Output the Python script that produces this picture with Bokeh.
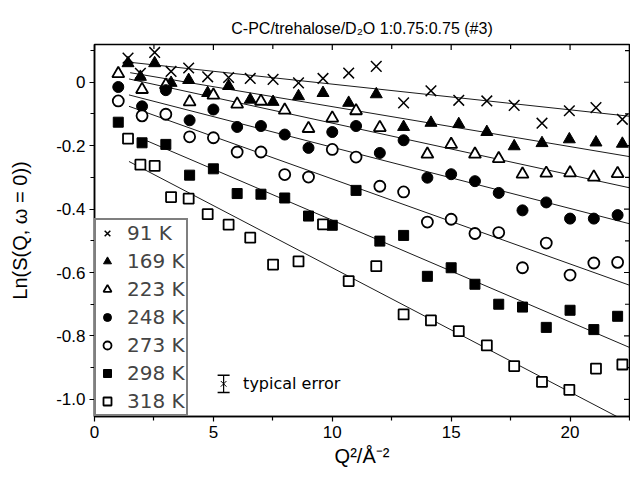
import math
from bokeh.plotting import figure
from bokeh.models import FixedTicker, Legend, LegendItem, Range1d
from bokeh.core.properties import value
from bokeh.embed import file_html
from bokeh.resources import INLINE

# ---------------- data ----------------
title_text = "C-PC/trehalose/D₂O 1:0.75:0.75 (#3)"
x_label = "Q²/Å⁻²"
y_label = "Ln(S(Q, ω = 0))"

x_ticks = [0, 5, 10, 15, 20]
x_tick_labels = ["0", "5", "10", "15", "20"]
x_minor_ticks = [2.5, 7.5, 12.5, 17.5, 22.5]
y_ticks = [0, -0.2, -0.4, -0.6, -0.8, -1.0]
y_tick_labels = ["0", "-0.2", "-0.4", "-0.6", "-0.8", "-1.0"]
y_minor_ticks = [0.1, -0.1, -0.3, -0.5, -0.7, -0.9]

labels = ["91 K", "169 K", "223 K", "248 K", "273 K", "298 K", "318 K"]

q2_a = [1.41, 1.93, 2.53, 3.22, 3.96, 4.76, 5.64, 6.55, 7.51, 8.58, 9.61,
        10.69, 11.85, 13.00, 14.15, 15.32, 16.50, 17.65, 18.82, 19.97, 21.09, 22.20]
q2_b = [1, 2, 3, 4, 5, 6, 7, 8, 9, 10, 11,
        12, 13, 14, 15, 16, 17, 18, 19, 20, 21, 22]
q2_223 = [1, 2, 3, 4, 5, 6, 7, 8, 9, 10, 11,
          12, 14, 15, 16, 17, 18, 19, 20, 21, 22]

s_91 = [0.076, 0.028, 0.094, 0.034, 0.045, 0.017, 0.015, 0.012, 0.009, -0.002, 0.012,
        0.029, 0.050, -0.065, -0.027, -0.057, -0.059, -0.073, -0.129, -0.090, -0.080, -0.117]
s_169 = [0.060, 0.017, 0.060, -0.002, 0.007, -0.034, -0.012, -0.055, -0.062, -0.044, -0.034,
         -0.065, -0.038, -0.141, -0.128, -0.132, -0.157, -0.202, -0.192, -0.180, -0.190, -0.194]
s_223 = [0.027, -0.023, -0.009, -0.062, -0.041, -0.069, -0.060, -0.088, -0.146, -0.113, -0.090,
         -0.143, -0.227, -0.196, -0.227, -0.241, -0.290, -0.287, -0.286, -0.299, -0.288]
s_248 = [-0.015, -0.076, -0.025, -0.120, -0.086, -0.141, -0.138, -0.165, -0.207, -0.157, -0.138,
         -0.223, -0.183, -0.301, -0.290, -0.312, -0.349, -0.404, -0.379, -0.430, -0.430, -0.419]
s_273 = [-0.059, -0.106, -0.101, -0.172, -0.175, -0.220, -0.220, -0.291, -0.299, -0.212, -0.236,
         -0.328, -0.346, -0.441, -0.432, -0.477, -0.474, -0.585, -0.507, -0.608, -0.570, -0.568]
s_298 = [-0.126, -0.191, -0.196, -0.293, -0.273, -0.351, -0.353, -0.365, -0.422, -0.451, -0.341,
         -0.501, -0.483, -0.612, -0.585, -0.637, -0.700, -0.709, -0.773, -0.719, -0.780, -0.738]
s_318 = [-0.178, -0.260, -0.264, -0.362, -0.367, -0.416, -0.449, -0.490, -0.575, -0.565, -0.448,
         -0.627, -0.580, -0.732, -0.751, -0.785, -0.830, -0.895, -0.945, -0.970, -0.903, -0.890]

# linear fits: y = intercept + slope * Q^2
fit_start = [1.40, 1.50, 1.45, 1.45, 1.45, 1.95, 1.45]
fit_end = [22.5, 22.5, 22.5, 22.5, 22.5, 22.5, 22.5]
fit_intercept = [0.075, 0.049, 0.034, -0.012, -0.037, -0.114, -0.193]
fit_slope = [-0.0081, -0.0126, -0.0163, -0.0193, -0.0268, -0.0321, -0.0392]

# typical error indicator
err_x = [5.43]
err_y = [-0.951]
err_half = [0.027]
err_text = ["typical error"]
err_text_x = [6.25]

# axis ranges
x_min, x_max = 0.0, 22.5
y_min, y_max = -1.054, 0.119

# ---------------- figure ----------------
p = figure(width=630, height=480, output_backend="svg", toolbar_location=None,
           x_range=Range1d(x_min, x_max), y_range=Range1d(y_min, y_max),
           min_border_left=94, min_border_right=1, min_border_top=44, min_border_bottom=64,
           title=title_text)
p.title.align = "center"
p.title.text_font = "Liberation Sans"
p.title.text_font_size = "16px"
p.title.text_font_style = "normal"
p.title.text_color = "black"
p.title.standoff = 16
p.grid.visible = False
p.outline_line_color = "black"
p.outline_line_width = 1.5
p.background_fill_color = "white"
p.border_fill_color = "white"


def style_axis(ax, ticks, minor, overrides):
    ax.ticker = FixedTicker(ticks=ticks, minor_ticks=minor)
    ax.axis_line_color = "black"
    ax.axis_line_width = 1.5
    ax.major_tick_line_color = "black"
    ax.minor_tick_line_color = "black"
    ax.major_tick_line_width = 1.2
    ax.minor_tick_line_width = 1.2
    ax.major_tick_in, ax.major_tick_out = 0, 5
    ax.minor_tick_in, ax.minor_tick_out = 0, 4
    ax.major_label_overrides = overrides
    ax.major_label_text_font = "Liberation Sans"
    ax.major_label_text_font_size = "17px"
    ax.major_label_text_color = "black"
    ax.major_label_standoff = 4


xb = p.xaxis[0]
yl = p.yaxis[0]
style_axis(xb, x_ticks, x_minor_ticks, dict(zip(x_ticks, x_tick_labels)))
style_axis(yl, y_ticks, y_minor_ticks, dict(zip(y_ticks, y_tick_labels)))
xb.axis_label = x_label
xb.axis_label_text_font = "Liberation Sans"
xb.axis_label_text_font_size = "20px"
xb.axis_label_text_font_style = "normal"
xb.axis_label_text_color = "black"
xb.axis_label_standoff = 4
yl.axis_label = y_label
yl.axis_label_text_font = "Liberation Sans"
yl.axis_label_text_font_size = "20px"
yl.axis_label_text_font_style = "normal"
yl.axis_label_text_color = "black"
yl.axis_label_standoff = 22

# mirrored inward ticks on the top and right frame edges (clipped to the frame)
p.scatter(x=x_ticks, y=[y_max] * len(x_ticks), marker="dash", angle=math.pi / 2,
          size=11, line_color="black", line_width=1.2)
p.scatter(x=x_minor_ticks, y=[y_max] * len(x_minor_ticks), marker="dash", angle=math.pi / 2,
          size=9, line_color="black", line_width=1.2)
p.scatter(x=[x_max] * len(y_ticks), y=y_ticks, marker="dash",
          size=11, line_color="black", line_width=1.2)
p.scatter(x=[x_max] * len(y_minor_ticks), y=y_minor_ticks, marker="dash",
          size=9, line_color="black", line_width=1.2)

# fit lines
fy0 = [b + m * x for b, m, x in zip(fit_intercept, fit_slope, fit_start)]
fy1 = [b + m * x for b, m, x in zip(fit_intercept, fit_slope, fit_end)]
p.segment(x0=fit_start, y0=fy0, x1=fit_end, y1=fy1, line_color="black", line_width=0.9)

# data markers
series = [
    (q2_a, s_91, "x", 15, "black", 1.5),
    (q2_a, s_169, "triangle", 12, "black", 1.0),
    (q2_223, s_223, "triangle", 12, "white", 1.8),
    (q2_b, s_248, "circle", 11, "black", 1.0),
    (q2_b, s_273, "circle", 11, "white", 1.8),
    (q2_b, s_298, "square", 10, "black", 1.0),
    (q2_a, s_318, "square", 10, "white", 1.8),
]
renderers = []
for xs, ys, mk, sz, fc, lw in series:
    r = p.scatter(x=xs, y=ys, marker=mk, size=sz, fill_color=fc,
                  line_color="black", line_width=lw)
    renderers.append(r)

legend = Legend(items=[LegendItem(label=lab, renderers=[r]) for lab, r in zip(labels, renderers)],
                location="bottom_left", margin=0, padding=1, spacing=4,
                glyph_width=20, glyph_height=20, label_standoff=10,
                label_text_font="DejaVu Sans", label_text_font_size="20px",
                label_height=20, border_line_color="black", border_line_width=2,
                background_fill_color="white", background_fill_alpha=1.0)
p.add_layout(legend)

# typical error indicator
ey0 = [y - h for y, h in zip(err_y, err_half)]
ey1 = [y + h for y, h in zip(err_y, err_half)]
p.segment(x0=err_x, y0=ey0, x1=err_x, y1=ey1, line_color="black", line_width=1.2)
p.scatter(x=err_x + err_x, y=ey0 + ey1, marker="dash", size=12, line_color="black", line_width=1.5)
p.scatter(x=err_x, y=err_y, marker="x", size=8, line_color="black", line_width=1)
p.text(x=err_text_x, y=err_y, text=err_text, text_font=value("DejaVu Sans"),
       text_font_size="16px", text_baseline="middle", text_color="black")

open("out.html", "w").write(file_html(p, INLINE))
